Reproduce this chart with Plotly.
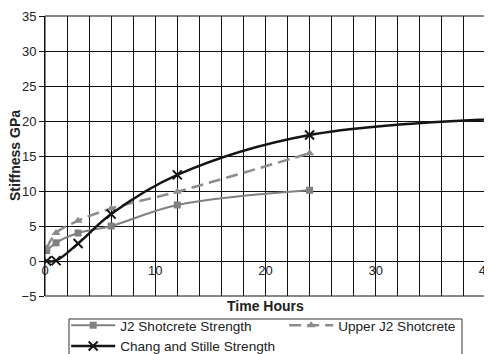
import plotly.graph_objects as go

# ---- data ----
j2_x = [0.15, 1, 3, 6, 12, 24]
j2_y = [1.5, 2.6, 4.0, 5.0, 8.0, 10.1]

upper_x = [0.15, 1, 3, 6, 12, 24]
upper_y = [1.8, 4.0, 5.75, 7.5, 9.9, 15.4]

chang_x = [0.15, 1, 3, 6, 12, 24, 48]
chang_y = [0.0, 0.05, 2.5, 6.7, 12.3, 18.0, 20.7]

x_tick_vals = [0, 10, 20, 30, 40]
y_tick_vals = [-5, 0, 5, 10, 15, 20, 25, 30, 35]

FONT = "Liberation Sans, Arial, sans-serif"

fig = go.Figure()
fig.add_trace(go.Scatter(
    x=j2_x, y=j2_y, name="J2 Shotcrete Strength", mode="lines+markers",
    line=dict(color="#808080", width=2, shape="spline", smoothing=1),
    marker=dict(symbol="square", size=7, color="#808080"),
))
fig.add_trace(go.Scatter(
    x=upper_x, y=upper_y, name="Upper J2 Shotcrete", mode="lines+markers",
    line=dict(color="#8c8c8c", width=2.5, dash="12px,6px", shape="spline", smoothing=1),
    marker=dict(symbol="triangle-up", size=8, color="#8c8c8c"),
))
fig.add_trace(go.Scatter(
    x=chang_x, y=chang_y, name="Chang and Stille Strength", mode="lines+markers",
    line=dict(color="#151515", width=2.5, shape="spline", smoothing=1),
    marker=dict(symbol="x-thin", size=9, color="#151515",
                line=dict(width=2, color="#151515")),
))

# page body has an 8px default margin, so the figure is sized/shifted to fit the 492x354 window
fig.update_layout(
    width=484, height=346,
    margin=dict(l=37, r=6, t=8, b=58, autoexpand=False),
    paper_bgcolor="white", plot_bgcolor="white",
    font=dict(family=FONT, size=13, color="#222"),
    showlegend=True,
    legend=dict(
        orientation="h", x=0.048, y=-0.05, xanchor="left", yanchor="top",
        entrywidth=159, itemwidth=44, borderwidth=0, bgcolor="rgba(0,0,0,0)",
        font=dict(family=FONT, size=13.6, color="#222"), tracegroupgap=0,
    ),
    xaxis=dict(
        range=[0, 40], tickvals=x_tick_vals, showgrid=True, gridcolor="#111",
        gridwidth=1, minor=dict(dtick=2, showgrid=True, gridcolor="#111", gridwidth=1),
        anchor="free", position=0.125, showline=False, zeroline=False,
        ticks="", tickfont=dict(size=13, color="#222"), ticklabeloverflow="allow",
    ),
    yaxis=dict(
        range=[-5, 35], tickvals=y_tick_vals, showgrid=True, gridcolor="#111",
        gridwidth=1, zeroline=False, showline=True, linecolor="#111",
        ticks="outside", ticklen=5, tickcolor="#111",
        tickfont=dict(size=13, color="#222"), ticklabeloverflow="allow",
    ),
    shapes=[
        dict(type="rect", xref="x domain", yref="y domain", x0=0, x1=1, y0=0, y1=1,
             line=dict(color="#111", width=1), layer="above"),
        dict(type="rect", xref="paper", yref="paper", x0=0.0544, x1=0.9456,
             y0=-0.0821, y1=-0.25, line=dict(color="#333", width=1)),
    ],
    annotations=[
        dict(text="<b>Time Hours</b>", xref="paper", yref="paper", x=0.5, y=-0.0346,
             xanchor="center", yanchor="middle", showarrow=False,
             font=dict(family=FONT, size=14, color="#222")),
        dict(text="<b>Stiffness GPa</b>", xref="paper", yref="paper", x=-0.068, y=0.5,
             xanchor="center", yanchor="middle", textangle=-90, showarrow=False,
             font=dict(family=FONT, size=14, color="#222")),
    ],
)

fig.write_html("out.html")
